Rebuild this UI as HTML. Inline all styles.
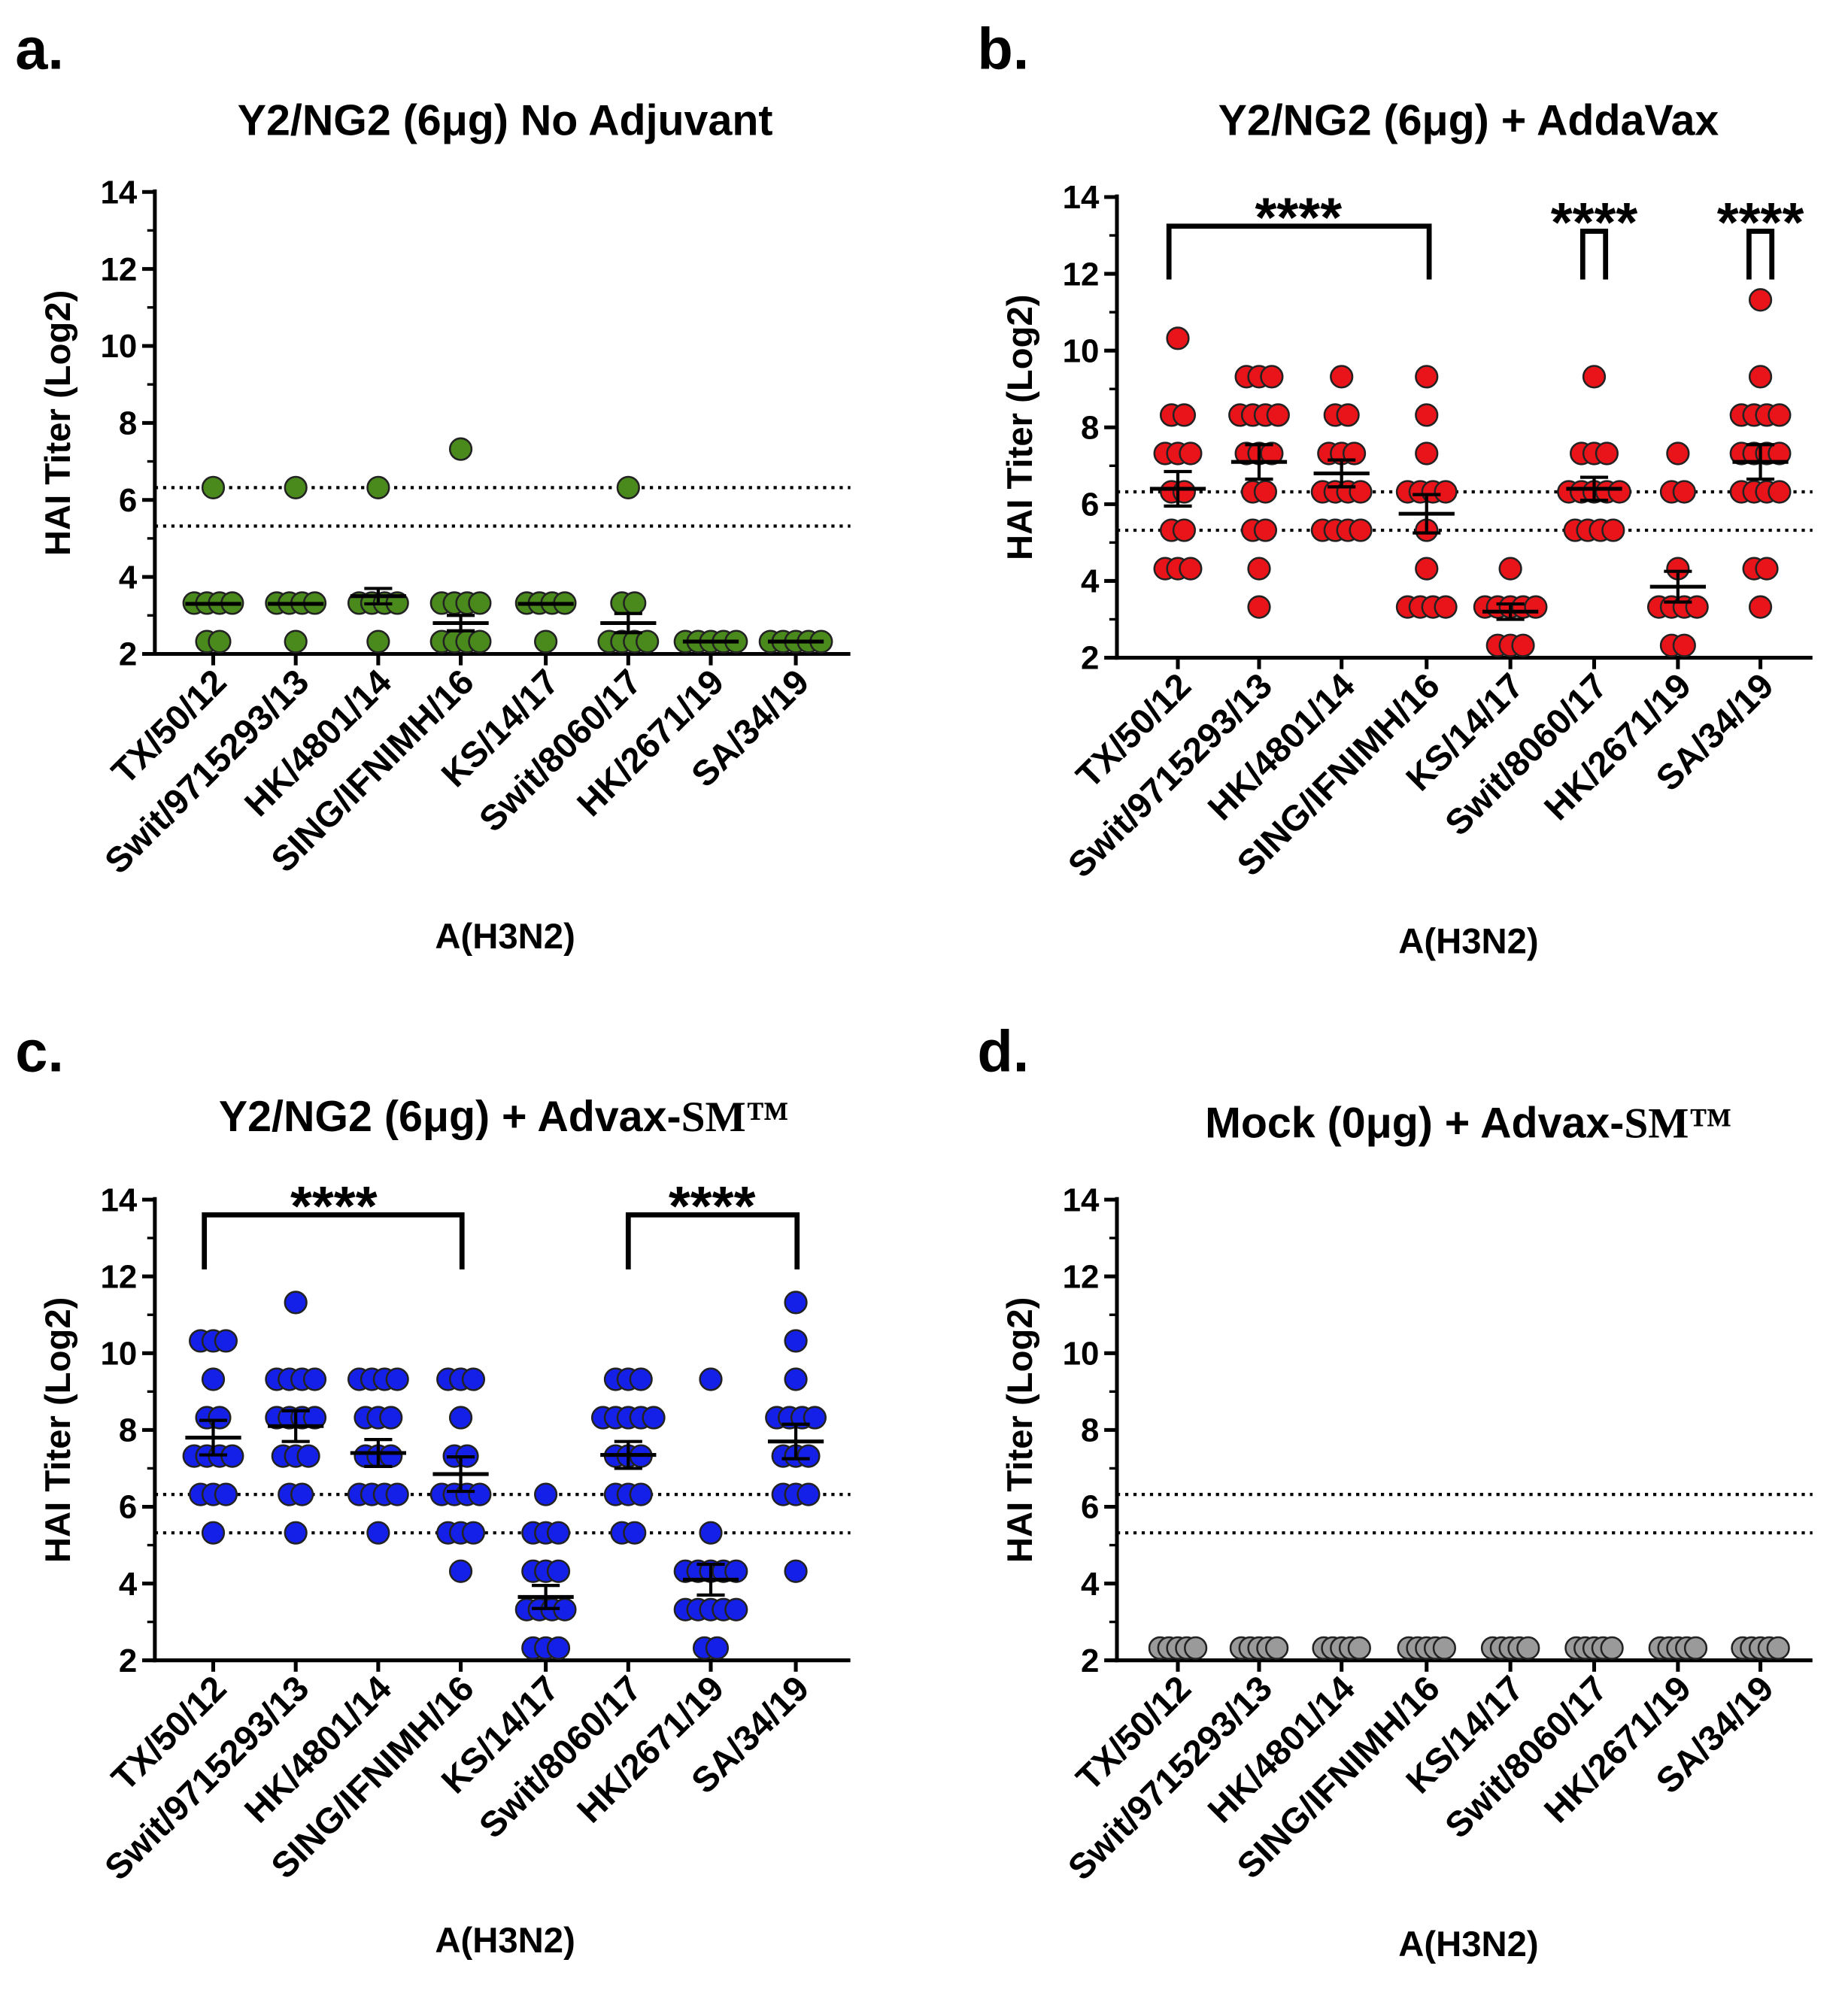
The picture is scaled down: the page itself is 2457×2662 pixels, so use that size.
<!DOCTYPE html>
<html><head><meta charset="utf-8"><style>
html,body{margin:0;padding:0;background:#fff}
svg{display:block}
text{font-family:"Liberation Sans",Arial,sans-serif;font-weight:bold;fill:#000}
</style></head><body>
<svg id="s" width="2457" height="2662" viewBox="0 0 1456 1577" xmlns="http://www.w3.org/2000/svg">
<text x="12" y="54" font-size="46">a.</text>
<text x="770" y="54" font-size="46">b.</text>
<text x="12" y="844" font-size="46">c.</text>
<text x="770" y="844" font-size="46">d.</text>
<text x="398" y="106" font-size="34" text-anchor="middle">Y2/NG2 (6μg) No Adjuvant</text>
<text x="1157" y="106" font-size="34" text-anchor="middle">Y2/NG2 (6μg) + AddaVax</text>
<text x="397" y="891" font-size="34" text-anchor="middle">Y2/NG2 (6μg) + Advax-<tspan font-family="Liberation Serif,serif">SM™</tspan></text>
<text x="1157" y="896" font-size="34" text-anchor="middle">Mock (0μg) + Advax-<tspan font-family="Liberation Serif,serif">SM™</tspan></text>
<text x="398" y="747" font-size="28" text-anchor="middle">A(H3N2)</text>
<text x="1157" y="751" font-size="28" text-anchor="middle">A(H3N2)</text>
<text x="398" y="1538" font-size="28" text-anchor="middle">A(H3N2)</text>
<text x="1157" y="1541" font-size="28" text-anchor="middle">A(H3N2)</text>
<g id="g"></g>
</svg>
<script>
const NS="http://www.w3.org/2000/svg";const G=document.getElementById('g');
function el(t,a,txt){const e=document.createElementNS(NS,t);for(const k in a)e.setAttribute(k,a[k]);if(txt!==undefined)e.textContent=txt;G.appendChild(e);return e;}
const names=["TX/50/12","Swit/9715293/13","HK/4801/14","SING/IFNIMH/16","KS/14/17","Swit/8060/17","HK/2671/19","SA/34/19"];
function panel(ax,y14,y2,cols,color,data,means,brackets,sp){
 sp=sp||12;
 const u=(y2-y14)/12; const Y=v=>y2-(v-2)*u; const xe=ax+548;
 el('line',{x1:ax,y1:y14-2,x2:ax,y2:y2+1.5,stroke:'#000','stroke-width':3});
 el('line',{x1:ax-1.5,y1:y2,x2:xe,y2:y2,stroke:'#000','stroke-width':3});
 for(let v=2;v<=14;v+=2){el('line',{x1:ax-10,y1:Y(v),x2:ax,y2:Y(v),stroke:'#000','stroke-width':3});
  el('text',{x:ax-14,y:Y(v)+9,'font-size':26,'text-anchor':'end'},v);}
 for(let v=3;v<=13;v+=2)el('line',{x1:ax-6,y1:Y(v),x2:ax,y2:Y(v),stroke:'#000','stroke-width':2});
 el('text',{transform:`translate(${ax-67},${(y14+y2)/2}) rotate(-90)`,'font-size':28,'text-anchor':'middle'},'HAI Titer (Log2)');
 [6.32,5.32].forEach(v=>el('line',{x1:ax,y1:Y(v),x2:xe,y2:Y(v),stroke:'#000','stroke-width':2.5,'stroke-dasharray':'2.5 4'}));
 cols.forEach((cx,i)=>{
  el('line',{x1:cx,y1:y2,x2:cx,y2:y2+9,stroke:'#000','stroke-width':3});
  el('text',{transform:`translate(${cx+12},${y2+24}) rotate(-45)`,'font-size':28,'text-anchor':'end'},names[i]);
  data[i].forEach(([v,n])=>{for(let k=0;k<n;k++){const x=cx+(k-(n-1)/2)*sp;
   el('circle',{cx:x,cy:Y(v),r:8.5,fill:color,stroke:'#222','stroke-width':1.5});}});
  if(means){const m=means[i];el('line',{x1:cx-22,y1:Y(m[0]),x2:cx+22,y2:Y(m[0]),stroke:'#000','stroke-width':3});
   if(m[1]){el('line',{x1:cx,y1:Y(m[0]-m[1]),x2:cx,y2:Y(m[0]+m[1]),stroke:'#000','stroke-width':2.5});
   [1,-1].forEach(s=>el('line',{x1:cx-11,y1:Y(m[0]+s*m[1]),x2:cx+11,y2:Y(m[0]+s*m[1]),stroke:'#000','stroke-width':2.5}));}}
 });
 (brackets||[]).forEach(([x1,x2,yt,yb,tx])=>{
  el('path',{d:`M${x1} ${yb}V${yt}H${x2}V${yb}`,fill:'none',stroke:'#000','stroke-width':4});
  el('text',{x:tx,y:yt+8,'font-size':44,'text-anchor':'middle'},'****');});
}
const cA=[168,233,298,363,430,495,560,627], cB=[928,992,1057,1124,1190,1256,1322,1387];
panel(122,151,515,cA,'#4a8a1c',[
 [[6.32,1],[3.32,4],[2.32,2]],[[6.32,1],[3.32,4],[2.32,1]],[[6.32,1],[3.32,4],[2.32,1]],[[7.32,1],[3.32,4],[2.32,4]],
 [[3.32,4],[2.32,1]],[[6.32,1],[3.32,2],[2.32,4]],[[2.32,5]],[[2.32,5]]],
 [[3.3,0],[3.3,0],[3.5,0.2],[2.8,0.2],[3.3,0],[2.8,0.25],[2.32,0],[2.32,0]],null,10);
panel(880,155,518,cB,'#e8141a',[
 [[10.32,1],[8.32,2],[7.32,3],[6.32,2],[5.32,2],[4.32,3]],
 [[9.32,3],[8.32,4],[7.32,3],[6.32,2],[5.32,2],[4.32,1],[3.32,1]],
 [[9.32,1],[8.32,2],[7.32,3],[6.32,4],[5.32,4]],
 [[9.32,1],[8.32,1],[7.32,1],[6.32,4],[5.32,1],[4.32,1],[3.32,4]],
 [[4.32,1],[3.32,5],[2.32,3]],
 [[9.32,1],[7.32,3],[6.32,5],[5.32,4]],
 [[7.32,1],[6.32,2],[4.32,1],[3.32,4],[2.32,2]],
 [[11.32,1],[9.32,1],[8.32,4],[7.32,4],[6.32,4],[4.32,2],[3.32,1]]],
 [[6.4,0.45],[7.1,0.45],[6.8,0.35],[5.75,0.5],[3.2,0.2],[6.4,0.3],[3.85,0.4],[7.1,0.45]],
 [[921,1126,178,220,1023],[1247,1265,182,220,1256],[1378,1396,182,220,1387]],10);
panel(122,945,1308,cA,'#1420e8',[
 [[10.32,3],[9.32,1],[8.32,2],[7.32,4],[6.32,3],[5.32,1]],
 [[11.32,1],[9.32,4],[8.32,4],[7.32,3],[6.32,2],[5.32,1]],
 [[9.32,4],[8.32,3],[7.32,3],[6.32,4],[5.32,1]],
 [[9.32,3],[8.32,1],[7.32,2],[6.32,4],[5.32,3],[4.32,1]],
 [[6.32,1],[5.32,3],[4.32,3],[3.32,4],[2.32,3]],
 [[9.32,3],[8.32,5],[7.32,3],[6.32,3],[5.32,2]],
 [[9.32,1],[5.32,1],[4.32,5],[3.32,5],[2.32,2]],
 [[11.32,1],[10.32,1],[9.32,1],[8.32,4],[7.32,3],[6.32,3],[4.32,1]]],
 [[7.8,0.45],[8.1,0.4],[7.4,0.35],[6.85,0.45],[3.65,0.3],[7.35,0.35],[4.1,0.4],[7.7,0.45]],
 [[161,364,957,1000,263],[495,628,957,1000,561]],10);
panel(880,945,1308,cB,'#9a9a9a',Array(8).fill([[2.32,5]]),null,null,7);
</script>
</body></html>
